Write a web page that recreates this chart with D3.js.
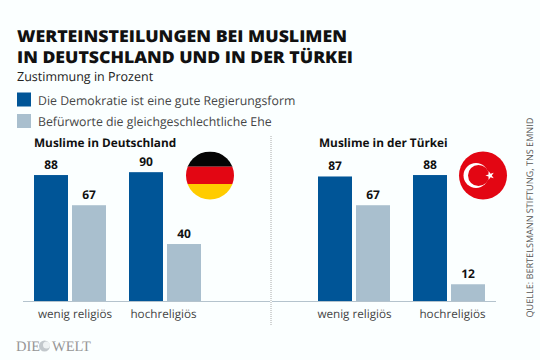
<!DOCTYPE html>
<html>
<head>
<meta charset="utf-8">
<script src="https://cdn.jsdelivr.net/npm/d3@7"></script>
<style>
html, body { margin: 0; padding: 0; background: #fbffff; }
svg { display: block; }
text { font-family: "Open Sans", sans-serif; fill: #222; text-rendering: geometricPrecision; }
</style>
</head>
<body>
<svg id="chart" width="540" height="360"></svg>
<script>
var groups = ["wenig religiös", "hochreligiös"];
var seriesNames = ["Die Demokratie ist eine gute Regierungsform", "Befürworte die gleichgeschlechtliche Ehe"];
var seriesColors = ["#005597", "#a9bfce"];
var deutschland = [[88, 67], [90, 40]];
var tuerkei = [[87, 67], [88, 12]];

var svg = d3.select("#chart");
var baseY = 301.5;

var y = d3.scaleLinear().domain([0, 100]).range([baseY, baseY - 143.7]);

// titles, stretched to the width of the original lines
var title = svg.append("g").style("font-weight", 800).style("font-size", "16.4px");
title.append("text").attr("x", 17).attr("y", 42).attr("textLength", 330).attr("lengthAdjust", "spacingAndGlyphs")
    .style("fill", "#111").text("WERTEINSTEILUNGEN BEI MUSLIMEN");
title.append("text").attr("x", 17).attr("y", 62.5).attr("textLength", 336).attr("lengthAdjust", "spacingAndGlyphs")
    .style("fill", "#111").text("IN DEUTSCHLAND UND IN DER TÜRKEI");
svg.append("text").attr("x", 17).attr("y", 81).style("font-size", "12.5px").text("Zustimmung in Prozent");

// legend
seriesNames.forEach(function (name, i) {
    var ly = 92.5 + i * 21.5;
    svg.append("rect").attr("x", 17).attr("y", ly).attr("width", 14).attr("height", 14).attr("fill", seriesColors[i]);
    svg.append("text").attr("x", 38).attr("y", ly + 12).style("font-size", "12.3px").style("fill", "#444").text(name);
});

function panel(name, values, x0, axisRange, nameX, tickRange) {
    var x = d3.scaleBand().domain(groups).range([x0, x0 + 190]);
    var x1 = d3.scaleBand().domain(d3.range(2)).range([0, 72]).paddingInner(4 / 38);
    var g = svg.append("g");

    g.append("text").attr("x", nameX).attr("y", 147).style("font-size", "11.8px").style("font-weight", 700).style("fill", "#111").text(name);

    groups.forEach(function (grp, i) {
        var row = g.append("g").attr("transform", "translate(" + x(grp) + ",0)");
        row.selectAll("rect").data(values[i]).join("rect")
            .attr("x", function (d, j) { return x1(j); })
            .attr("y", function (d) { return y(d); })
            .attr("width", x1.bandwidth())
            .attr("height", function (d) { return baseY - y(d); })
            .attr("fill", function (d, j) { return seriesColors[j]; });
        row.selectAll("text").data(values[i]).join("text")
            .attr("x", function (d, j) { return x1(j) + x1.bandwidth() / 2; })
            .attr("y", function (d) { return y(d) - 6.5; })
            .attr("text-anchor", "middle")
            .style("font-size", "12px").style("font-weight", 700).style("fill", "#111")
            .text(function (d) { return d; });
    });

    var tickScale = d3.scalePoint().domain(groups).range(tickRange);
    var axis = d3.axisBottom(tickScale).tickSize(0).tickPadding(8);
    var ax = g.append("g").attr("transform", "translate(0," + baseY + ")").call(axis);
    ax.select(".domain").remove();
    ax.selectAll("text").style("font-size", "11.7px").style("font-family", '"Open Sans", sans-serif').style("fill", "#444");
    g.append("line").attr("x1", axisRange[0]).attr("x2", axisRange[1]).attr("y1", baseY).attr("y2", baseY)
        .attr("stroke", "#b4c3cd").attr("stroke-width", 1);
}

panel("Muslime in Deutschland", deutschland, 34, [23, 270], 34, [74.5, 163]);
panel("Muslime in der Türkei", tuerkei, 318, [272, 496], 319, [354, 452]);

// dotted divider
svg.append("line").attr("x1", 271).attr("x2", 271).attr("y1", 136).attr("y2", 326)
    .attr("stroke", "#aaa").attr("stroke-width", 1).attr("stroke-dasharray", "1 1");

// flags
var de = svg.append("g");
de.append("clipPath").attr("id", "deClip").append("circle").attr("cx", 210).attr("cy", 175.5).attr("r", 24);
[["#050505", 151.5, 15.2], ["#e30613", 166.7, 17.3], ["#ffcc00", 184, 16]].forEach(function (b) {
    de.append("rect").attr("x", 186).attr("y", b[1]).attr("width", 48).attr("height", b[2])
        .attr("fill", b[0]).attr("clip-path", "url(#deClip)");
});
var tr = svg.append("g").attr("transform", "translate(483,175.5)");
tr.append("circle").attr("r", 24).attr("fill", "#e30613");
tr.append("circle").attr("cx", -7).attr("cy", 0).attr("r", 12.5).attr("fill", "#fff");
tr.append("circle").attr("cx", -4.5).attr("cy", 0).attr("r", 10.5).attr("fill", "#e30613");
tr.append("path").attr("d", d3.symbol(d3.symbolStar, 24)()).attr("transform", "translate(7,0) rotate(-18)").attr("fill", "#fff");

// source
svg.append("text").attr("transform", "translate(533,317.5) rotate(-90)")
    .style("font-size", "9.1px").style("fill", "#555").text("QUELLE: BERTELSMANN STIFTUNG, TNS EMNID");

// logo
var logo = svg.append("g").style("font-size", "14.5px");
logo.append("text").attr("x", 16).attr("y", 351).style("font-family", '"Liberation Serif", serif').style("fill", "#969696").text("DIE");
logo.append("circle").attr("cx", 44.5).attr("cy", 346).attr("r", 5.5).attr("fill", "#c2c8cc");
logo.append("circle").attr("cx", 46.5).attr("cy", 345).attr("r", 3.5).attr("fill", "#eef2f3");
logo.append("text").attr("x", 52).attr("y", 351).style("font-family", '"Liberation Serif", serif').style("fill", "#969696").text("WELT");
</script>
</body>
</html>
